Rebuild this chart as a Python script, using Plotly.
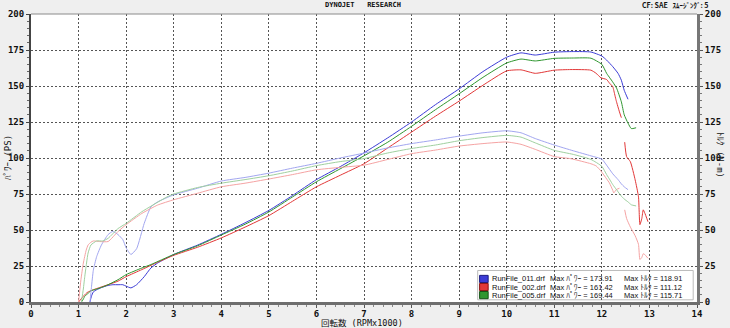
import plotly.graph_objects as go

# ---- Run 011 (blue) ----
rpm_011 = [1.24, 1.27, 1.31, 1.38, 1.48, 1.62, 1.72, 1.83, 1.93, 2.0, 2.1, 2.22, 2.38, 2.52, 2.66,
           3.0, 3.5, 4.0, 4.5, 5.0, 5.5, 6.0, 6.5, 7.0, 7.5, 8.0, 8.5, 9.0, 9.5, 10.0, 10.3, 10.6,
           11.0, 11.4, 11.77, 12.0, 12.1, 12.23, 12.34, 12.41, 12.47, 12.55]
power_011 = [0, 4, 7, 8.5, 10, 11.5, 12, 12, 12, 11, 9.8, 12, 17.6, 23.6, 27,
             33, 39.5, 47, 55, 63.6, 74, 85, 94, 103.6, 114, 125, 137, 148, 160, 170, 173, 171.5,
             173.5, 173.91, 173.6, 170.8, 168, 163.4, 158.8, 154, 147, 140.8]
torque_011 = [0, 10, 22, 31.5, 39.6, 46.8, 49, 46.8, 43.3, 37.6, 33, 37, 54.6, 66, 69.5,
              74.4, 79, 84, 86.5, 89.5, 93, 96.3, 100, 103.4, 107, 110, 112.5, 115.2, 117.5, 118.91, 117.5, 113.5,
              109, 105, 101.5, 99.2, 95, 89, 85, 82, 80, 78]

# ---- Run 002 (red) ----
rpm_002 = [1.0, 1.05, 1.1, 1.16, 1.2, 1.26, 1.31, 1.44, 1.62, 1.83, 2.0, 2.33, 2.66, 3.0, 3.5,
           4.0, 4.5, 5.0, 5.5, 6.0, 6.5, 7.0, 7.5, 8.0, 8.5, 9.0, 9.5, 10.0, 10.3, 10.6,
           11.0, 11.35, 11.77, 11.88, 11.98, 12.1, 12.16, 12.23, 12.25, 12.3, 12.37, 12.41,
           12.44, 12.48, 12.52, 12.6, 12.7, 12.77, 12.8, 12.84, 12.87, 12.9, 12.97]
power_002 = [0, 2, 4, 6, 7, 7.8, 8.5, 10, 12, 14.5, 17.6, 22.5, 27.6, 32.4, 38,
             44.5, 52, 60, 70, 80, 88, 96, 107, 118, 129, 139.5, 150.5, 160.5, 161.2, 158.8,
             161, 161.42, 161, 158.8, 155.7, 154.5, 152, 149.5, 147, 140, 132, 128,
             None, 111, 101, 97.4, 84.8, 73, 53.7, 58, 64, 62, 55.7]
torque_002 = [0, 15.6, 27, 36, 39.6, 41.5, 42.4, 42, 42, 49, 53.7, 61.5, 67.3, 71, 75.5,
              80, 82.5, 85.4, 88.5, 91.8, 93.5, 95, 99, 103, 105.5, 108.3, 110, 111.12, 109.5, 106,
              101, 99.5, 96, 94.5, 91, 85.5, 82.6, 77.5, 75.7, 78, 79, None,
              None, 64, 58, 52, 46, 40, 29.5, 31, 33.5, 33, 30.3]

# ---- Run 005 (green) ----
rpm_005 = [1.06, 1.1, 1.13, 1.2, 1.26, 1.38, 1.51, 1.62, 1.83, 2.0, 2.33, 2.52, 2.86, 3.0, 3.5,
           4.0, 4.5, 5.0, 5.5, 6.0, 6.5, 7.0, 7.5, 8.0, 8.5, 9.0, 9.5, 10.0, 10.3, 10.6,
           11.0, 11.4, 11.77, 12.0, 12.1, 12.17, 12.23, 12.31, 12.41, 12.47, 12.55, 12.62, 12.72]
power_005 = [0, 2, 4, 6, 7.8, 9, 10.5, 12, 15.5, 19, 23.6, 26, 31, 33, 39,
             46.5, 54, 62.5, 73, 83.5, 92.5, 101.5, 111, 122, 133.5, 144.6, 156, 166, 168.7, 167.4,
             169.2, 169.44, 169.3, 165, 158.8, 155.5, 152.7, 148.5, 139, 130, 124.2, 120.4, 121]
torque_005 = [0, 9, 17.6, 34, 39.6, 42.4, 42.4, 44.2, 51, 54.6, 62.7, 66.5, 73, 75, 79.5,
              82.5, 85, 87.7, 91, 94.7, 97.5, 99.6, 103.5, 106.6, 109, 112, 114.2, 115.71, 114.5, 110.5,
              105.3, 102.5, 99, 94.2, 88.5, 84.8, 81.5, 77.9, 73.5, 71.5, 69.5, 67.5, 66.7]

run_names = ["RunFile_011.drf", "RunFile_002.drf", "RunFile_005.drf"]
power_colors = ["#3c3cd6", "#e23838", "#2f962f"]
torque_colors = ["#a2a6f0", "#f5a3a3", "#9fd09f"]
swatch_edges = ["#1a1a80", "#8a1010", "#145214"]

x_ticks = list(range(0, 15))
y_ticks = list(range(0, 201, 25))

runs = [
    (rpm_011, power_011, torque_011),
    (rpm_002, power_002, torque_002),
    (rpm_005, power_005, torque_005),
]

fig = go.Figure()

line_shape = dict(width=1, shape="spline", smoothing=0.5)

for (rpm, _, trq), col in zip(runs, torque_colors):
    fig.add_trace(go.Scatter(x=rpm, y=trq, mode="lines", yaxis="y2",
                             line=dict(color=col, **line_shape),
                             connectgaps=False, showlegend=False, hoverinfo="skip"))
for (rpm, pwr, _), col in zip(runs, power_colors):
    fig.add_trace(go.Scatter(x=rpm, y=pwr, mode="lines",
                             line=dict(color=col, **line_shape),
                             connectgaps=False, showlegend=False, hoverinfo="skip"))

tick_font = dict(family="DejaVu Sans Mono", size=9, color="#111111", weight="bold")
grid_style = dict(showgrid=True, gridcolor="#555555", gridwidth=1, griddash="2px,2px")

fig.update_layout(
    width=730, height=328,
    margin=dict(l=31, r=33, t=14, b=26, autoexpand=False),
    paper_bgcolor="#efefef",
    plot_bgcolor="#ffffff",
    xaxis=dict(range=[0, 14], tickvals=x_ticks, ticktext=[str(v) for v in x_ticks],
               **grid_style, zeroline=False, automargin=False,
               showline=True, linecolor="#6e6e6e", linewidth=3,
               ticks="outside", ticklen=3, tickcolor="#555555", ticklabelstandoff=-2,
               minor=dict(dtick=0.2, ticks="outside", ticklen=2, tickcolor="#888888", showgrid=False),
               tickfont=tick_font),
    yaxis=dict(range=[0, 200], tickvals=y_ticks, ticktext=[str(v) for v in y_ticks],
               **grid_style, zeroline=False, automargin=False,
               showline=True, linecolor="#444444", linewidth=2,
               ticks="outside", ticklen=3, tickcolor="#444444",
               minor=dict(dtick=5, ticks="outside", ticklen=2, tickcolor="#666666", showgrid=False),
               tickfont=tick_font),
    yaxis2=dict(range=[0, 200], tickvals=y_ticks, ticktext=[str(v) for v in y_ticks],
                overlaying="y", side="right", showgrid=False, zeroline=False, automargin=False,
                showline=True, linecolor="#777777", linewidth=3,
                ticks="outside", ticklen=3, tickcolor="#555555",
                minor=dict(dtick=5, ticks="outside", ticklen=2, tickcolor="#777777"),
                tickfont=tick_font),
)

# top frame line of the plotting area
fig.add_shape(type="line", xref="paper", yref="paper", x0=0, x1=1, y0=1, y1=1,
              line=dict(color="#8a8a8a", width=1))

# legend panel (drawn under the grid)
fig.add_shape(type="rect", xref="x", yref="y", x0=9.39, x1=13.92, y0=1.5, y1=21.9,
              fillcolor="#ffffff", line=dict(color="#bbbbbb", width=1), layer="below")

row_y = [16.0, 10.4, 4.8]
legend_font = dict(family="Liberation Sans, Noto Sans CJK JP", size=7.5, color="#111111")
for (rpm, pwr, trq), name, col, edge, yy in zip(runs, run_names, power_colors, swatch_edges, row_y):
    fig.add_shape(type="rect", xref="x", yref="y", x0=9.43, x1=9.61, y0=yy - 2.5, y1=yy + 2.5,
                  fillcolor=col, line=dict(color=edge, width=1))
    p_max = max(v for v in pwr if v is not None)
    t_max = max(v for v in trq if v is not None)
    fig.add_annotation(x=9.65, y=yy, xref="x", yref="y", text=name, showarrow=False,
                       xanchor="left", yanchor="middle", font=legend_font)
    fig.add_annotation(x=10.87, y=yy, xref="x", yref="y", text=f"Max ﾊﾟﾜｰ = {p_max:.2f}",
                       showarrow=False, xanchor="left", yanchor="middle", font=legend_font)
    fig.add_annotation(x=12.43, y=yy, xref="x", yref="y", text=f"Max ﾄﾙｸ = {t_max:.2f}",
                       showarrow=False, xanchor="left", yanchor="middle", font=legend_font)

head_font = dict(family="DejaVu Sans Mono", size=7, color="#111111", weight="bold")
jp_font = dict(family="DejaVu Sans Mono, Noto Sans CJK JP", size=9, color="#111111")
cf_font = dict(family="Noto Sans CJK JP", size=7, color="#111111", weight="bold")

header_y = 1 + (14 - 4.6) / 288
fig.add_annotation(x=(363 - 31) / 666, y=header_y, xref="paper", yref="paper",
                   text="DYNOJET   RESEARCH", showarrow=False,
                   xanchor="center", yanchor="middle", font=head_font)
fig.add_annotation(x=(640 - 31) / 666, y=header_y, xref="paper", yref="paper",
                   text="CF: SAE   ｽﾑｰｼﾞﾝｸﾞ: 5", showarrow=False,
                   xanchor="left", yanchor="middle", font=cf_font)
fig.add_annotation(x=(8 - 31) / 666, y=(302 - 158) / 288, xref="paper", yref="paper",
                   text="ﾊﾟﾜｰ (PS)", textangle=-90, showarrow=False,
                   xanchor="center", yanchor="middle", font=jp_font)
fig.add_annotation(x=(720 - 31) / 666, y=(302 - 155) / 288, xref="paper", yref="paper",
                   text="ﾄﾙｸ (N-m)", textangle=90, showarrow=False,
                   xanchor="center", yanchor="middle", font=jp_font)
fig.add_annotation(x=(362 - 31) / 666, y=-(323 - 302) / 288, xref="paper", yref="paper",
                   text="回転数 (RPMx1000)", showarrow=False,
                   xanchor="center", yanchor="middle",
                   font=dict(family="DejaVu Sans Mono, Noto Sans CJK JP", size=8.5, color="#111111"))

fig.write_html("out.html")
